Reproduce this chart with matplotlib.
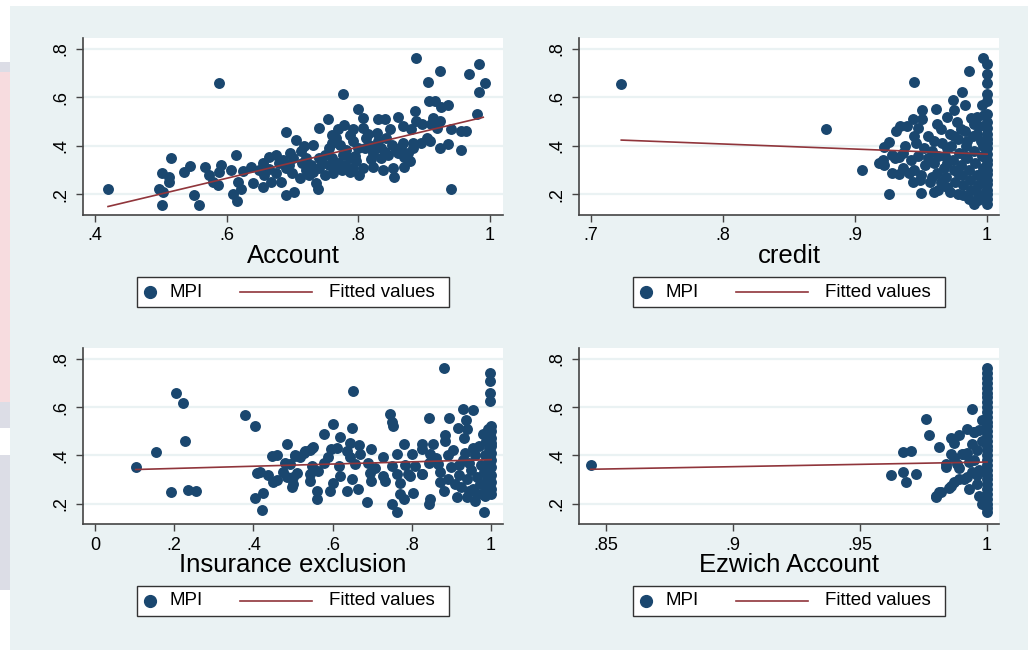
import numpy as np
import matplotlib.pyplot as plt
from matplotlib.patches import Rectangle

plt.rcParams["font.family"] = ["Liberation Sans", "DejaVu Sans"]

NAVY, MAROON = "#1a476f", "#90353b"
BG = "#eaf2f3"

# (x, MPI) per district
account = np.array([
    (0.420, 0.221), (0.588, 0.658), (0.888, 0.761), (0.777, 0.614), (0.984, 0.737),
    (0.969, 0.695), (0.993, 0.661), (0.925, 0.709), (0.906, 0.665), (0.984, 0.621),
    (0.908, 0.587), (0.916, 0.587), (0.936, 0.568), (0.926, 0.559), (0.980, 0.531),
    (0.941, 0.471), (0.956, 0.461), (0.964, 0.461), (0.956, 0.382), (0.941, 0.224),
    (0.936, 0.408), (0.924, 0.391), (0.800, 0.552), (0.754, 0.510), (0.740, 0.472),
    (0.690, 0.458), (0.705, 0.423), (0.731, 0.405), (0.779, 0.485), (0.807, 0.517),
    (0.830, 0.510), (0.840, 0.510), (0.860, 0.521), (0.886, 0.542), (0.888, 0.503),
    (0.868, 0.482), (0.880, 0.468), (0.848, 0.468), (0.883, 0.412), (0.878, 0.336),
    (0.870, 0.315), (0.853, 0.308), (0.837, 0.300), (0.855, 0.273), (0.822, 0.315),
    (0.802, 0.280), (0.787, 0.294), (0.762, 0.287), (0.736, 0.245), (0.739, 0.224),
    (0.711, 0.269), (0.703, 0.210), (0.690, 0.196), (0.683, 0.252), (0.668, 0.252),
    (0.655, 0.231), (0.640, 0.245), (0.617, 0.252), (0.622, 0.224), (0.610, 0.203),
    (0.616, 0.172), (0.614, 0.363), (0.607, 0.301), (0.625, 0.297), (0.637, 0.315),
    (0.592, 0.322), (0.589, 0.294), (0.587, 0.238), (0.579, 0.252), (0.568, 0.312),
    (0.574, 0.280), (0.545, 0.319), (0.535, 0.291), (0.516, 0.352), (0.513, 0.252),
    (0.513, 0.273), (0.502, 0.287), (0.497, 0.224), (0.503, 0.210), (0.502, 0.158),
    (0.550, 0.196), (0.558, 0.158), (0.655, 0.329), (0.665, 0.356), (0.675, 0.363),
    (0.686, 0.343), (0.696, 0.370), (0.701, 0.350), (0.713, 0.377), (0.721, 0.350),
    (0.729, 0.322), (0.741, 0.350), (0.749, 0.363), (0.756, 0.391), (0.761, 0.412),
    (0.767, 0.433), (0.772, 0.405), (0.782, 0.384), (0.787, 0.447), (0.792, 0.419),
    (0.800, 0.391), (0.807, 0.475), (0.812, 0.433), (0.817, 0.405), (0.822, 0.370),
    (0.830, 0.419), (0.835, 0.391), (0.843, 0.433), (0.851, 0.405), (0.858, 0.384),
    (0.868, 0.412), (0.846, 0.363), (0.861, 0.370), (0.835, 0.350), (0.777, 0.363),
    (0.787, 0.350), (0.797, 0.336), (0.807, 0.308), (0.792, 0.308), (0.761, 0.350),
    (0.756, 0.322), (0.767, 0.308), (0.731, 0.294), (0.741, 0.308), (0.726, 0.280),
    (0.700, 0.290), (0.690, 0.310), (0.695, 0.322), (0.675, 0.290), (0.665, 0.305),
    (0.657, 0.280), (0.904, 0.433), (0.909, 0.419), (0.919, 0.475), (0.924, 0.503),
    (0.914, 0.517), (0.897, 0.490), (0.910, 0.492), (0.883, 0.390), (0.875, 0.370),
    (0.650, 0.300), (0.715, 0.330), (0.745, 0.330), (0.770, 0.330), (0.780, 0.320),
    (0.820, 0.345), (0.810, 0.390), (0.825, 0.395), (0.840, 0.375), (0.865, 0.395),
    (0.870, 0.355), (0.895, 0.410), (0.680, 0.330), (0.720, 0.300), (0.750, 0.280),
    (0.775, 0.300), (0.795, 0.360), (0.815, 0.450), (0.828, 0.455), (0.792, 0.470),
    (0.770, 0.470), (0.760, 0.445), (0.718, 0.398),
])

credit = np.array([
    (0.723, 0.657), (0.878, 0.470), (0.905, 0.302), (0.926, 0.203), (0.945, 0.663),
    (0.986, 0.710), (0.997, 0.761), (1.000, 0.738), (1.000, 0.697), (1.000, 0.661),
    (1.000, 0.614), (1.000, 0.587), (0.981, 0.621), (0.974, 0.589), (0.983, 0.570),
    (0.996, 0.568), (0.961, 0.554), (0.951, 0.550), (0.975, 0.548), (0.944, 0.510),
    (0.951, 0.510), (0.931, 0.462), (0.934, 0.483), (0.939, 0.481), (0.948, 0.472),
    (0.988, 0.513), (0.992, 0.520), (0.998, 0.527), (0.926, 0.418), (0.922, 0.396),
    (0.946, 0.410), (0.918, 0.331), (0.922, 0.321), (0.921, 0.343), (0.928, 0.361),
    (0.933, 0.354), (0.928, 0.288), (0.933, 0.286), (0.949, 0.258), (0.950, 0.206),
    (0.963, 0.219), (0.972, 0.210), (0.982, 0.199), (0.990, 0.159), (0.993, 0.175),
    (1.000, 0.159), (1.000, 0.203), (1.000, 0.244), (1.000, 0.286), (1.000, 0.327),
    (1.000, 0.368), (1.000, 0.410), (1.000, 0.451), (1.000, 0.472), (0.955, 0.440),
    (0.958, 0.380), (0.960, 0.330), (0.962, 0.290), (0.957, 0.250), (0.965, 0.470),
    (0.966, 0.410), (0.968, 0.360), (0.967, 0.310), (0.969, 0.270), (0.970, 0.230),
    (0.972, 0.450), (0.973, 0.400), (0.974, 0.340), (0.975, 0.300), (0.976, 0.250),
    (0.977, 0.500), (0.978, 0.430), (0.979, 0.370), (0.980, 0.320), (0.981, 0.280),
    (0.982, 0.240), (0.983, 0.460), (0.984, 0.400), (0.985, 0.350), (0.986, 0.300),
    (0.987, 0.260), (0.988, 0.220), (0.989, 0.440), (0.990, 0.380), (0.991, 0.330),
    (0.992, 0.280), (0.993, 0.240), (0.994, 0.480), (0.995, 0.420), (0.996, 0.360),
    (0.997, 0.310), (0.998, 0.260), (0.999, 0.210), (0.960, 0.420), (0.963, 0.360),
    (0.953, 0.320), (0.958, 0.270), (0.948, 0.360), (0.945, 0.300), (0.942, 0.340),
    (0.938, 0.400), (0.941, 0.290), (0.944, 0.250), (0.952, 0.390), (0.955, 0.350),
    (0.970, 0.390), (0.985, 0.420), (0.975, 0.440), (0.965, 0.250), (0.978, 0.200),
    (0.992, 0.450), (0.997, 0.400), (0.999, 0.350), (0.996, 0.290), (0.993, 0.200),
    (0.986, 0.180), (0.962, 0.490), (0.970, 0.520), (0.980, 0.470), (0.990, 0.490),
    (1.000, 0.390), (1.000, 0.340), (1.000, 0.300), (1.000, 0.260), (1.000, 0.220),
    (1.000, 0.180), (1.000, 0.430), (1.000, 0.500), (1.000, 0.530), (0.936, 0.310),
    (0.930, 0.350), (0.936, 0.370), (0.950, 0.280), (0.960, 0.210), (0.945, 0.440),
    (0.970, 0.330), (0.983, 0.360), (0.978, 0.290),
])

insurance = np.array([
    (0.103, 0.352), (0.155, 0.415), (0.192, 0.248), (0.204, 0.658), (0.223, 0.615),
    (0.228, 0.458), (0.236, 0.257), (0.254, 0.250), (0.379, 0.567), (0.404, 0.520),
    (0.404, 0.222), (0.425, 0.245), (0.423, 0.174), (0.408, 0.326), (0.416, 0.332),
    (0.438, 0.319), (0.446, 0.397), (0.459, 0.401), (0.450, 0.291), (0.459, 0.298),
    (0.486, 0.448), (0.476, 0.332), (0.484, 0.312), (0.497, 0.270), (0.501, 0.312),
    (0.505, 0.397), (0.517, 0.394), (0.480, 0.367), (0.529, 0.408), (0.543, 0.422),
    (0.551, 0.436), (0.652, 0.666), (0.881, 0.763), (0.998, 0.742), (0.998, 0.708),
    (0.998, 0.659), (0.998, 0.625), (0.745, 0.572), (0.750, 0.537), (0.752, 0.523),
    (0.844, 0.553), (0.894, 0.556), (0.930, 0.590), (0.954, 0.588), (0.936, 0.545),
    (0.917, 0.512), (0.938, 0.508), (0.932, 0.473), (0.884, 0.483), (0.884, 0.460),
    (0.602, 0.528), (0.648, 0.515), (0.579, 0.487), (0.619, 0.476), (0.644, 0.452),
    (0.667, 0.443), (0.698, 0.425), (0.781, 0.448), (0.825, 0.445), (0.854, 0.445),
    (0.547, 0.432), (0.530, 0.418), (0.505, 0.402), (0.596, 0.425), (0.612, 0.432),
    (0.636, 0.416), (0.669, 0.405), (0.644, 0.391), (0.588, 0.391), (0.728, 0.393),
    (0.762, 0.407), (0.800, 0.404), (0.825, 0.425), (0.846, 0.404), (0.492, 0.363),
    (0.548, 0.356), (0.577, 0.370), (0.615, 0.356), (0.657, 0.363), (0.690, 0.370),
    (0.707, 0.349), (0.749, 0.356), (0.783, 0.360), (0.808, 0.356), (0.842, 0.370),
    (0.867, 0.363), (0.509, 0.328), (0.543, 0.322), (0.564, 0.335), (0.619, 0.315),
    (0.694, 0.328), (0.728, 0.315), (0.762, 0.322), (0.795, 0.315), (0.825, 0.322),
    (0.501, 0.280), (0.543, 0.294), (0.602, 0.287), (0.648, 0.301), (0.698, 0.294),
    (0.732, 0.294), (0.770, 0.287), (0.791, 0.322), (0.825, 0.322), (0.560, 0.253),
    (0.593, 0.253), (0.636, 0.253), (0.665, 0.260), (0.560, 0.218), (0.686, 0.208),
    (0.749, 0.200), (0.762, 0.163), (0.770, 0.239), (0.779, 0.218), (0.804, 0.245),
    (0.842, 0.197), (0.846, 0.218), (0.880, 0.253), (0.913, 0.226), (0.938, 0.226),
    (0.960, 0.212), (0.964, 0.239), (0.981, 0.163), (0.870, 0.330), (0.890, 0.300),
    (0.900, 0.350), (0.910, 0.280), (0.920, 0.320), (0.930, 0.380), (0.940, 0.300),
    (0.950, 0.340), (0.955, 0.260), (0.960, 0.400), (0.965, 0.310), (0.970, 0.440),
    (0.972, 0.280), (0.975, 0.360), (0.978, 0.240), (0.980, 0.490), (0.982, 0.330),
    (0.985, 0.400), (0.987, 0.270), (0.988, 0.460), (0.990, 0.300), (0.991, 0.370),
    (0.992, 0.510), (0.993, 0.250), (0.994, 0.430), (0.995, 0.340), (0.996, 0.480),
    (0.997, 0.290), (0.998, 0.390), (0.999, 0.450), (1.000, 0.520), (1.000, 0.500),
    (1.000, 0.470), (1.000, 0.440), (1.000, 0.410), (1.000, 0.380), (1.000, 0.350),
    (1.000, 0.320), (1.000, 0.290), (1.000, 0.260), (1.000, 0.240), (0.985, 0.230),
    (0.890, 0.400), (0.905, 0.420), (0.920, 0.360), (0.935, 0.410), (0.945, 0.370),
    (0.870, 0.290), (0.860, 0.390), (0.945, 0.250), (0.925, 0.270), (0.955, 0.430),
])

ezwich = np.array([
    (0.844, 0.359), (0.962, 0.317), (0.967, 0.332), (0.968, 0.288), (0.967, 0.412),
    (0.970, 0.419), (0.972, 0.323), (0.976, 0.550), (0.977, 0.484), (0.981, 0.434),
    (0.980, 0.225), (0.982, 0.246), (0.986, 0.274), (0.987, 0.288), (0.984, 0.350),
    (0.987, 0.388), (0.991, 0.405), (0.992, 0.409), (0.986, 0.470), (0.987, 0.449),
    (0.989, 0.484), (0.989, 0.348), (0.991, 0.301), (0.993, 0.259), (0.994, 0.590),
    (0.992, 0.510), (0.995, 0.498), (0.994, 0.445), (0.986, 0.404), (0.990, 0.407),
    (0.984, 0.362), (0.988, 0.362), (0.993, 0.373), (0.989, 0.301), (0.992, 0.308),
    (0.985, 0.266), (0.981, 0.249), (0.980, 0.232), (0.998, 0.545), (0.997, 0.504),
    (0.995, 0.497), (0.996, 0.420), (0.997, 0.340), (0.996, 0.280), (0.997, 0.230),
    (0.995, 0.380), (0.998, 0.460), (0.996, 0.320), (0.998, 0.200), (0.994, 0.330),
    (1.000, 0.763), (1.000, 0.740), (1.000, 0.720), (1.000, 0.700), (1.000, 0.680),
    (1.000, 0.660), (1.000, 0.640), (1.000, 0.620), (1.000, 0.600), (1.000, 0.580),
    (1.000, 0.560), (1.000, 0.540), (1.000, 0.520), (1.000, 0.500), (1.000, 0.480),
    (1.000, 0.460), (1.000, 0.440), (1.000, 0.420), (1.000, 0.400), (1.000, 0.380),
    (1.000, 0.360), (1.000, 0.340), (1.000, 0.320), (1.000, 0.300), (1.000, 0.280),
    (1.000, 0.260), (1.000, 0.240), (1.000, 0.220), (1.000, 0.200), (1.000, 0.180),
    (1.000, 0.163),
])

# fitted-value line end points (x0, x1), (y0, y1)
fit_account = ([0.420, 0.990], [0.150, 0.518])
fit_credit = ([0.723, 1.000], [0.424, 0.366])
fit_insurance = ([0.103, 1.000], [0.341, 0.382])
fit_ezwich = ([0.844, 1.000], [0.342, 0.372])

panels = [
    ("Account", account, fit_account, (0.382, 1.020), [0.4, 0.6, 0.8, 1.0], [".4", ".6", ".8", "1"]),
    ("credit", credit, fit_credit, (0.691, 1.009), [0.7, 0.8, 0.9, 1.0], [".7", ".8", ".9", "1"]),
    ("Insurance exclusion", insurance, fit_insurance, (-0.030, 1.030),
     [0, 0.2, 0.4, 0.6, 0.8, 1.0], ["0", ".2", ".4", ".6", ".8", "1"]),
    ("Ezwich Account", ezwich, fit_ezwich, (0.8394, 1.0047),
     [0.85, 0.9, 0.95, 1.0], [".85", ".9", ".95", "1"]),
]
yticks = [0.2, 0.4, 0.6, 0.8]
ylabels = [".2", ".4", ".6", ".8"]

W, H = 1028, 650
fig = plt.figure(figsize=(W / 100, H / 100), dpi=100)
fig.patch.set_facecolor("white")

# slide bits peeking in at the left edge, then the graph region
def px_rect(x0, y0, x1, y1, color):
    fig.add_artist(Rectangle((x0 / W, 1 - y1 / H), (x1 - x0) / W, (y1 - y0) / H,
                             transform=fig.transFigure, color=color, lw=0, zorder=-3))

px_rect(0, 62, 10, 72, "#dcdde6")
px_rect(0, 72, 10, 402, "#f7dcdf")
px_rect(0, 402, 10, 428, "#dcdde6")
px_rect(0, 455, 10, 590, "#dcdde6")
px_rect(10, 6, W, H, BG)

boxes = [(83, 38, 503, 215), (579, 38, 999, 215), (83, 348, 503, 524), (579, 348, 999, 524)]

for (name, pts, fit, xlim, xt, xtl), (x0, y0, x1, y1) in zip(panels, boxes):
    ax = fig.add_axes([x0 / W, 1 - y1 / H, (x1 - x0) / W, (y1 - y0) / H])
    ax.set_facecolor("white")
    ax.set_xlim(*xlim)
    ax.set_ylim(0.115, 0.845)
    ax.set_yticks(yticks, ylabels, rotation=90, va="center", fontsize=13)
    ax.set_xticks(xt, xtl, fontsize=13)
    ax.grid(axis="y", color=BG, lw=1.6)
    ax.set_axisbelow(True)
    for s in ("top", "right"):
        ax.spines[s].set_visible(False)
    for s in ("left", "bottom"):
        ax.spines[s].set_color("#444444")
        ax.spines[s].set_linewidth(1.2)
    ax.tick_params(direction="out", length=5, width=1, color="#444444")
    ax.tick_params(axis="x", pad=4)
    ax.tick_params(axis="y", pad=5)

    ax.scatter(pts[:, 0], pts[:, 1], s=62, color=NAVY, lw=0, zorder=3)
    ax.plot(fit[0], fit[1], color=MAROON, lw=1.2, zorder=4)
    ax.set_xlabel(name, fontsize=18.5, labelpad=0)

    # legend box under each panel
    ax.add_patch(Rectangle((0.1286, -0.522), 0.7428, 0.172, transform=ax.transAxes,
                           facecolor="white", edgecolor="#333333", lw=1.0, clip_on=False))
    ax.plot([0.1595], [-0.436], "o", ms=8.5, color=NAVY, transform=ax.transAxes, clip_on=False)
    ax.text(0.205, -0.436, "MPI", transform=ax.transAxes, fontsize=13.5, va="center")
    ax.plot([0.374, 0.545], [-0.436, -0.436], color=MAROON, lw=1.2,
            transform=ax.transAxes, clip_on=False)
    ax.text(0.586, -0.436, "Fitted values", transform=ax.transAxes, fontsize=13.5, va="center")

fig.savefig("out.png", dpi=100)
